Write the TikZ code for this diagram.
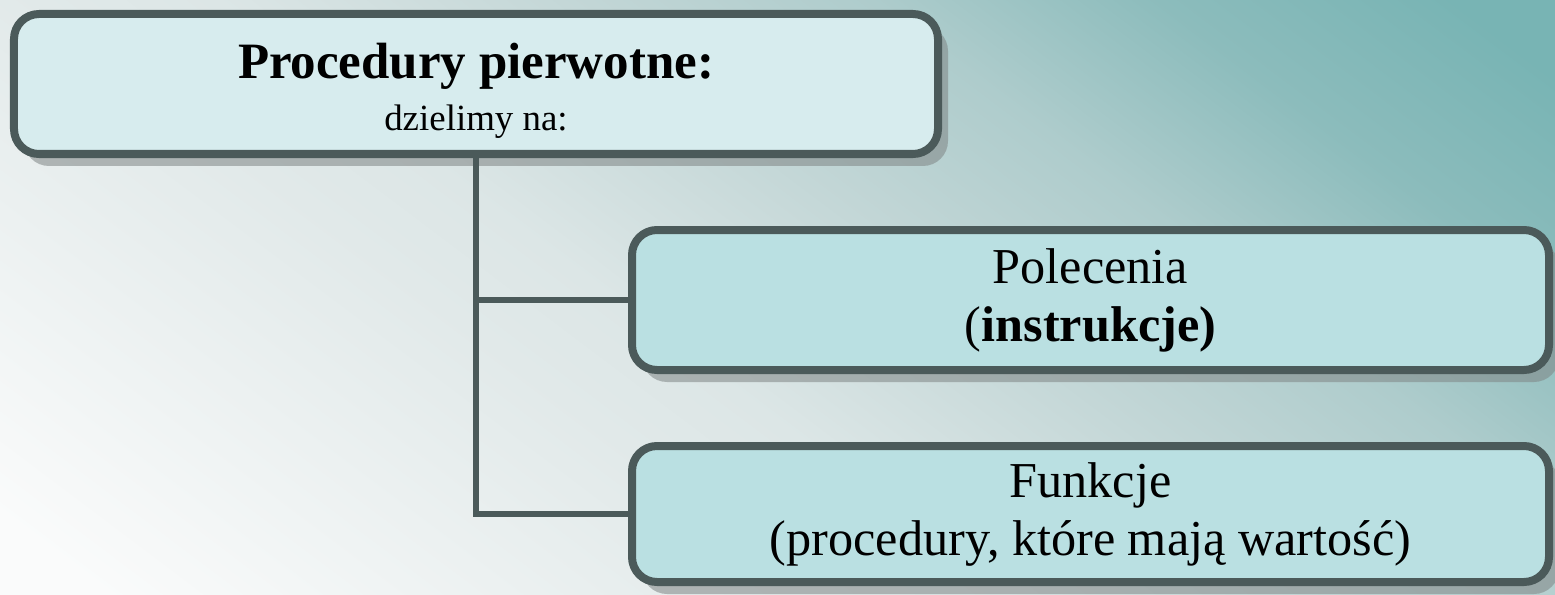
\documentclass[tikz,border=0pt]{standalone}
\usepackage{fontspec}
\setmainfont{Liberation Serif}
\usetikzlibrary{shadows}

\definecolor{edgegrey}{HTML}{4B5A5A}
\definecolor{shadowgrey}{HTML}{7F8585}
\definecolor{headfill}{HTML}{D7ECEE}
\definecolor{itemfill}{HTML}{BAE0E2}
\definecolor{bglight}{HTML}{FAFBFB}
\definecolor{bgpale}{HTML}{E1E9E9}
\definecolor{bgsoft}{HTML}{DCE6E6}
\definecolor{bgmist}{HTML}{C2D6D6}
\definecolor{bgsea}{HTML}{AECCCC}
\definecolor{bgdeep}{HTML}{8CBCBC}
\definecolor{bgteal}{HTML}{78B4B4}

\pgfdeclarehorizontalshading{bgwash}{100bp}{color(0bp)=(bglight); color(18bp)=(bglight);
	color(39.6bp)=(bgpale); color(45bp)=(bgsoft); color(56.1bp)=(bgmist); color(64.6bp)=(bgsea);
	color(73.2bp)=(bgdeep); color(82bp)=(bgteal); color(100bp)=(bgteal)}

\tikzset{
	procbox/.style={draw=edgegrey, line width=0.08cm, rounded corners=0.25cm,
		align=center, inner sep=0pt, minimum height=1.4cm,
		drop shadow={shadow xshift=0.1cm, shadow yshift=-0.12cm, fill=shadowgrey, opacity=0.55}},
	headbox/.style={procbox, fill=headfill, minimum width=9.24cm},
	itembox/.style={procbox, fill=itemfill, minimum width=9.17cm,
		font=\fontsize{14.3}{16.5}\selectfont},
	link/.style={draw=edgegrey, line width=0.06cm}
}

\begin{document}
\begin{tikzpicture}
	% background
	\useasboundingbox (0,0) rectangle (15.55,5.94);
	\shade [shading=bgwash, shading angle=53] (0,0) rectangle (15.55,5.94);

	\node [headbox] (header) at (4.76,5.10)
		{{\fontsize{14.5}{16.5}\selectfont\bfseries\rule{0pt}{14pt}Procedury pierwotne:}\\[0.1cm]
		{\fontsize{10.5}{12}\selectfont dzielimy na:}};
	\node [itembox] (polecenia) at (10.905,2.94)
		{Polecenia\\(\textbf{instrukcje)}};
	\node [itembox, minimum height=1.36cm] (funkcje) at (10.905,0.80)
		{Funkcje\\(procedury, które mają wartość)};

	\draw [link] (header.south) |- (polecenia.west);
	\draw [link] (header.south) |- (funkcje.west);
\end{tikzpicture}
\end{document}
